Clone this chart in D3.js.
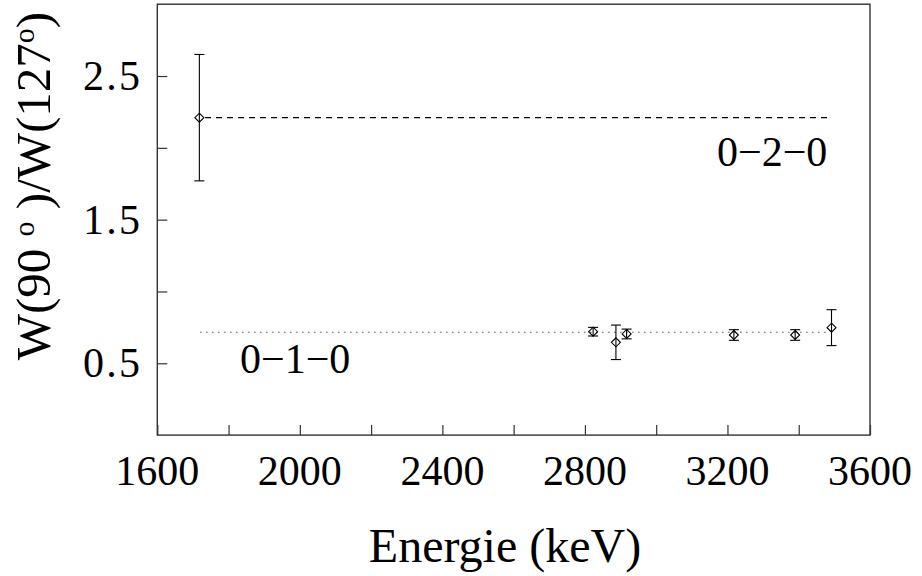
<!DOCTYPE html>
<html><head><meta charset="utf-8">
<script src="https://cdn.jsdelivr.net/npm/d3@7"></script>
<style>body{margin:0;background:#fff}svg{display:block}text{font-family:"Liberation Serif","Times New Roman",serif;fill:#000}</style>
</head><body>
<svg id="c" width="922" height="576"></svg>
<script>
const energies = [1718, 2823, 2887, 2917, 3218, 3390, 3492];
const ratios   = [2.21, 0.72, 0.646, 0.704, 0.697, 0.697, 0.748];
const errors   = [0.44, 0.03, 0.12, 0.034, 0.037, 0.037, 0.125];
const lineLevels = [2.21, 0.716];
const lineLabels = ["0\u22122\u22120", "0\u22121\u22120"];
const lineRange = [1720, 3490];
const xTicks = [1600, 1800, 2000, 2200, 2400, 2600, 2800, 3000, 3200, 3400, 3600];
const xTickLabels = [1600, 2000, 2400, 2800, 3200, 3600];
const yTicks = [0.5, 1, 1.5, 2, 2.5];
const yTickLabels = [0.5, 1.5, 2.5];

const svg = d3.select("#c");
const L = 157.3, R = 870, T = 4.2, B = 435.1;
const x = d3.scaleLinear().domain([1600, 3600]).range([L, R]);
const y = d3.scaleLinear().domain([0, 3]).range([B, T]);
const axisColor = "#333";

// frame
svg.append("rect").attr("x", L).attr("y", T).attr("width", R - L).attr("height", B - T)
  .attr("fill", "none").attr("stroke", axisColor).attr("stroke-width", 1.4);

// x axis ticks (inward)
const xa = svg.append("g").attr("transform", `translate(0,${B})`)
  .call(d3.axisBottom(x).tickValues(xTicks).tickSizeInner(-10).tickSizeOuter(0).tickFormat(""));
xa.select(".domain").remove();
xa.selectAll("line").attr("stroke", axisColor).attr("stroke-width", 1.2);
svg.append("g").selectAll("text").data(xTickLabels).join("text")
  .attr("x", d => x(d)).attr("y", 485).attr("text-anchor", "middle")
  .attr("font-size", 42).text(d => d);

// y axis ticks (inward)
const ya = svg.append("g").attr("transform", `translate(${L},0)`)
  .call(d3.axisLeft(y).tickValues(yTicks).tickSizeInner(-10).tickSizeOuter(0).tickFormat(""));
ya.select(".domain").remove();
ya.selectAll("line").attr("stroke", axisColor).attr("stroke-width", 1.2);
svg.append("g").selectAll("text").data(yTickLabels).join("text")
  .attr("x", 140).attr("y", d => y(d) + 14).attr("text-anchor", "end")
  .attr("font-size", 42).attr("textLength", 57).attr("lengthAdjust", "spacing")
  .text(d => d3.format(".1f")(d));

// reference lines
svg.append("line").attr("x1", x(lineRange[0]) + 5).attr("x2", x(lineRange[1]) - 2)
  .attr("y1", y(lineLevels[0])).attr("y2", y(lineLevels[0]))
  .attr("stroke", "#000").attr("stroke-width", 1.2).attr("stroke-dasharray", "6,5");
svg.append("line").attr("x1", x(lineRange[0])).attr("x2", x(lineRange[1]) - 5)
  .attr("y1", y(lineLevels[1])).attr("y2", y(lineLevels[1]))
  .attr("stroke", "#555").attr("stroke-width", 1.2).attr("stroke-dasharray", "1.5,4.5");

// labels for lines
svg.append("text").attr("x", 717).attr("y", 166).attr("font-size", 42).text(lineLabels[0]);
svg.append("text").attr("x", 240).attr("y", 373).attr("font-size", 42).text(lineLabels[1]);

// error bars and points
const pts = energies.map((e, i) => ({e, v: ratios[i], s: errors[i]}));
const g = svg.append("g").attr("stroke", "#000").attr("stroke-width", 1.1).attr("fill", "none");
pts.forEach(p => {
  const cx = x(p.e);
  g.append("line").attr("x1", cx).attr("x2", cx).attr("y1", y(p.v - p.s)).attr("y2", y(p.v + p.s));
  g.append("line").attr("x1", cx - 5).attr("x2", cx + 5).attr("y1", y(p.v + p.s)).attr("y2", y(p.v + p.s));
  g.append("line").attr("x1", cx - 5).attr("x2", cx + 5).attr("y1", y(p.v - p.s)).attr("y2", y(p.v - p.s));
  const cy = y(p.v), r = 4.5;
  g.append("path").attr("d", `M${cx},${cy - r}L${cx + r},${cy}L${cx},${cy + r}L${cx - r},${cy}Z`);
});

// axis titles
svg.append("text").attr("x", 505).attr("y", 562).attr("text-anchor", "middle")
  .attr("font-size", 48).text("Energie (keV)");
const yl = svg.append("text").attr("transform", "translate(50,186) rotate(-90)")
  .attr("text-anchor", "middle").attr("font-size", 49);
yl.append("tspan").text("W(90 ");
yl.append("tspan").attr("font-size", 30).attr("dy", -16).text("o");
yl.append("tspan").attr("dy", 16).text(" )/W(127");
yl.append("tspan").attr("font-size", 30).attr("dy", -16).text("o");
yl.append("tspan").attr("dy", 16).text(")");
</script>
</body></html>
